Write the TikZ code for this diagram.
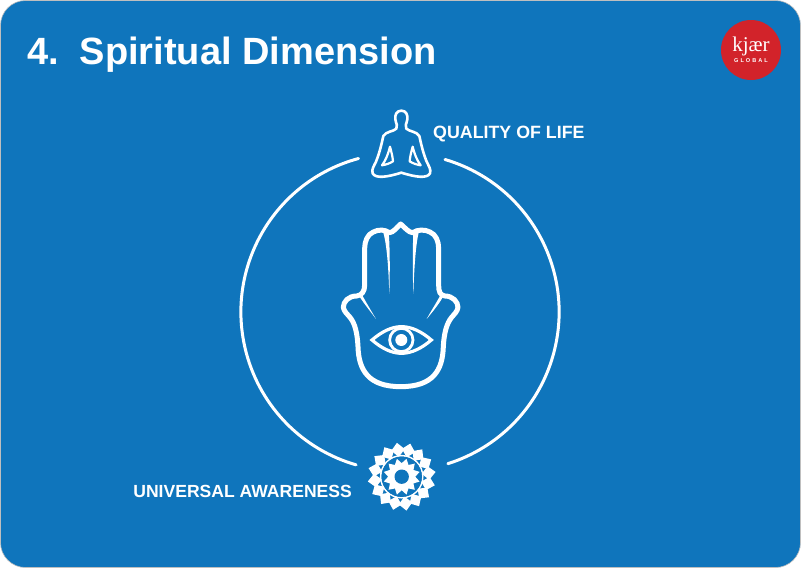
\documentclass[tikz,border=0pt]{standalone}
\usepackage{fontspec}
\setmainfont{Liberation Sans}
\newfontfamily\logofont{Liberation Serif}
\newfontfamily\logosubfont[LetterSpace=36]{Liberation Sans Bold}
\definecolor{bgblue}{HTML}{0F75BC}
\definecolor{logored}{HTML}{D2232A}
\tikzset{
  titletext/.style={text=white,font=\fontsize{38}{42}\selectfont\bfseries,inner sep=0pt,anchor=base west},
  labeltext/.style={text=white,font=\fontsize{17.8}{20}\selectfont\bfseries,inner sep=0pt},
  ringline/.style={draw=white,line width=3pt,line cap=round},
}
\begin{document}
\begin{tikzpicture}[x=1pt,y=-1pt]
\useasboundingbox (0,0) rectangle (801,568);
\fill[white] (0,0) rectangle (801,568);
\draw[fill=bgblue,draw=black!25,line width=0.6pt,rounded corners=25pt] (0.5,0.5) rectangle (800.5,567.5);
\node[titletext] (title) at (27,64) {4.\hspace{0.55em}Spiritual Dimension};
% logo
\node[circle,fill=logored,minimum size=60pt,inner sep=0pt] (logo) at (751,50) {};
\node[text=white,inner sep=0pt,font=\logofont\fontsize{21}{22}\selectfont] (logoname) at (751,46) {kjær};
\node[text=white,inner sep=0pt,font=\logosubfont\fontsize{5.6}{6}\selectfont] (logosub) at (751,61) {GLOBAL};
% ring
\coordinate (ringc) at (400,312);
\draw[ringline] (358.5,158.5) arc[start angle=-105.1,end angle=-254,radius=159];
\draw[ringline] (445,159.5) arc[start angle=-73.6,end angle=72.5,radius=159];
% labels
\node[labeltext,anchor=base west] (qol) at (433,138.5) {QUALITY OF LIFE};
\node[labeltext,anchor=base east,font=\fontsize{17.55}{20}\selectfont\bfseries] (ua) at (352,497.5) {UNIVERSAL AWARENESS};
% hand
\begin{scope}[shift={(330,210)},x=0.3333pt,y=-0.3333pt]
\draw[white,line width=5pt,line join=round] (212,42) .. controls (200,52) and (190,68) .. (178,68)
 .. controls (165,58) and (145,58) .. (130,66) .. controls (112,73) and (104,95) .. (104,115)
 -- (104,225) .. controls (104,245) and (95,256) .. (80,258)
 .. controls (55,258) and (40,275) .. (40,292) .. controls (42,305) and (52,312) .. (60,322)
 .. controls (75,340) and (82,370) .. (84,410) .. controls (86,480) and (115,530) .. (212,530)
 .. controls (310,530) and (338,480) .. (340,410) .. controls (342,370) and (350,340) .. (365,322)
 .. controls (373,312) and (382,305) .. (384,292) .. controls (384,275) and (368,258) .. (345,258)
 .. controls (330,256) and (326,245) .. (326,225)
 -- (326,115) .. controls (326,95) and (318,73) .. (300,66)
 .. controls (285,58) and (262,58) .. (248,68) .. controls (236,68) and (224,52) .. (212,42) -- cycle;
\fill[white] (160,68) .. controls (172,110) and (176,190) .. (178,252) .. controls (180,190) and (180,110) .. (176,68) -- cycle;
\fill[white] (266,68) .. controls (256,110) and (252,190) .. (250,252) .. controls (248,190) and (248,110) .. (250,68) -- cycle;
\fill[white] (98,258) .. controls (110,280) and (125,305) .. (138,327) .. controls (122,305) and (105,285) .. (90,262) -- cycle;
\fill[white] (330,258) .. controls (318,280) and (302,305) .. (290,327) .. controls (308,305) and (325,285) .. (338,262) -- cycle;
\draw[white,line width=3.2pt,line join=miter] (126,390) .. controls (155,365) and (185,350) .. (214,350) .. controls (245,350) and (275,365) .. (304,390)
 .. controls (275,415) and (245,430) .. (214,430) .. controls (185,430) and (155,415) .. (126,390) -- cycle;
\draw[white,line width=2.8pt] (214,390) circle[radius=35];
\fill[white] (214,390) circle[radius=18];
\end{scope}
% meditating figure
\begin{scope}[shift={(350,100)},x=0.3333pt,y=-0.3333pt]
\draw[white,line width=2.6pt,line join=round] (154,32) .. controls (140,32) and (134,45) .. (136,58) .. controls (138,72) and (145,78) .. (139,86)
 .. controls (130,95) and (108,94) .. (100,108) .. controls (95,130) and (90,155) .. (78,185)
 .. controls (72,198) and (64,208) .. (68,220) .. controls (76,236) and (110,232) .. (154,218)
 .. controls (198,232) and (232,236) .. (240,220) .. controls (244,208) and (236,198) .. (230,185)
 .. controls (218,155) and (213,130) .. (208,108) .. controls (200,94) and (178,95) .. (169,86)
 .. controls (163,78) and (170,72) .. (172,58) .. controls (174,45) and (168,32) .. (154,32) -- cycle;
\draw[white,line width=2.2pt,line join=round] (120,140) .. controls (115,160) and (108,180) .. (96,196) .. controls (108,194) and (120,190) .. (129,184) .. controls (128,170) and (124,155) .. (120,140) -- cycle;
\draw[white,line width=2.2pt,line join=round] (188,140) .. controls (193,160) and (200,180) .. (212,196) .. controls (200,194) and (188,190) .. (179,184) .. controls (180,170) and (184,155) .. (188,140) -- cycle;
\end{scope}
% lotus mandala
\begin{scope}[shift={(401.7,476.7)}]
\foreach \a in {0,22.5,...,337.5}{
  \fill[white,rotate=\a+8] (27,-6.8) -- (34.2,0) -- (27,6.8) -- (20,0) -- cycle;
}
\draw[white,line width=1.6pt] (0,0) circle[radius=21];
\fill[bgblue] (0,0) circle[radius=20.2];
\foreach \a in {0,30,...,330}{
  \fill[white,rotate=\a+15] (10.5,-5.2) -- (18.5,0) -- (10.5,5.2) -- cycle;
}
\fill[white] (0,0) circle[radius=13];
\fill[bgblue] (0,0) circle[radius=7.2];
\end{scope}
\end{tikzpicture}
\end{document}
